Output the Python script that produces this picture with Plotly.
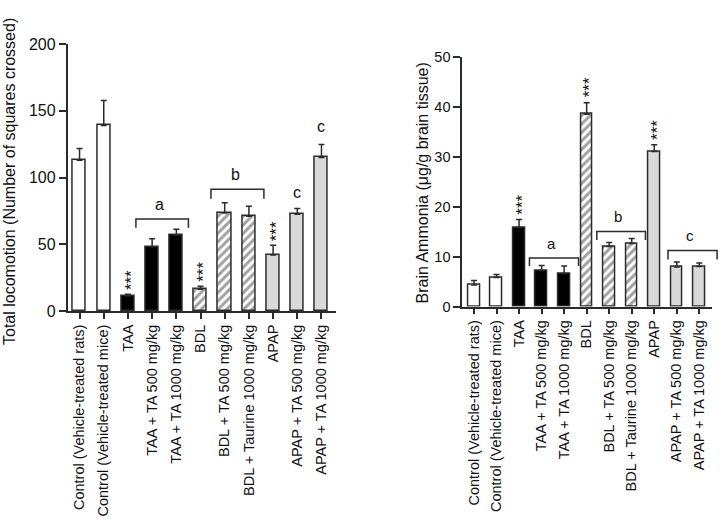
import plotly.graph_objects as go

categories = ["Control (Vehicle-treated rats)", "Control (Vehicle-treated mice)", "TAA",
              "TAA + TA 500 mg/kg", "TAA + TA 1000 mg/kg", "BDL", "BDL + TA 500 mg/kg",
              "BDL + Taurine 1000 mg/kg", "APAP", "APAP + TA 500 mg/kg", "APAP + TA 1000 mg/kg"]

locomotion = [113, 139, 11.5, 48.2, 57, 16.3, 73.5, 71, 42, 72.5, 115]
locomotion_err = [8.7, 18.6, 1.1, 6.0, 4.2, 2.2, 7.5, 7.5, 7.3, 4.2, 9.7]

ammonia = [4.3, 5.8, 15.8, 7.2, 6.6, 38.5, 12.0, 12.6, 31.0, 7.9, 8.0]
ammonia_err = [0.9, 0.6, 1.6, 1.0, 1.5, 2.3, 0.8, 1.0, 1.4, 1.0, 0.7]

star_idx = [2, 5, 8]

left_ticks = [0, 50, 100, 150, 200]
right_ticks = [0, 10, 20, 30, 40, 50]

# brackets: (x0, x1, ytop, ybottom, label, label_x, label_y)
left_brackets = [(2.33, 4.5, 69, 62.4, "a", 3.3, 72),
                 (5.43, 7.62, 91.2, 84, "b", 6.43, 94.5)]
left_letters = [("c", 9.0, 81), ("c", 10.0, 130)]
right_brackets = [(2.46, 4.64, 9.7, 8.1, "a", 3.42, 10.6),
                  (5.45, 7.61, 15.0, 13.3, "b", 6.37, 15.9),
                  (8.61, 10.79, 11.2, 9.4, "c", 9.6, 12.1)]

W, H = 720, 522
FONT = "Liberation Sans, Arial, sans-serif"
DARK = "#2b2b2b"

fills = ["white", "white", "black", "black", "black", "white", "white", "white",
         "#d9d9d9", "#d9d9d9", "#d9d9d9"]
shapes_p = ["", "", "", "", "", "/", "/", "/", "", "", ""]

def px_x(p):
    return p / W

def px_y(p):
    return 1 - p / H

L_XR = [-0.49, 10.6]
L_YR = [0, 200]
R_XR = [-0.52, 10.55]
R_YR = [0, 50]

fig = go.Figure()

def bar_trace(vals, errs, xa, ya, width):
    return go.Bar(
        x=list(range(len(categories))), y=vals, xaxis=xa, yaxis=ya, width=width,
        marker=dict(color=fills, line=dict(color=DARK, width=1.5),
                    pattern=dict(shape=shapes_p, fgcolor="#000000", bgcolor="white",
                                 size=6, solidity=0.5)),
        error_y=dict(type="data", symmetric=False, array=errs,
                     arrayminus=[0] * len(errs), color=DARK, thickness=1.5, width=3),
        showlegend=False, hoverinfo="skip")

fig.add_trace(bar_trace(locomotion, locomotion_err, "x", "y", 0.54))
fig.add_trace(bar_trace(ammonia, ammonia_err, "x2", "y2", 0.52))

axis_common = dict(showline=True, linecolor=DARK, linewidth=1.8, ticks="outside",
                   tickcolor=DARK, tickwidth=1.5, showgrid=False, zeroline=False,
                   automargin=False)

fig.update_layout(
    width=W, height=H, margin=dict(l=0, r=0, t=0, b=0, autoexpand=False),
    paper_bgcolor="white", plot_bgcolor="white", bargap=0,
    xaxis=dict(axis_common, domain=[px_x(67.7), px_x(336)], range=L_XR, anchor="y",
               tickmode="array", tickvals=list(range(len(categories))), ticktext=categories,
               tickangle=-90, ticklen=6, tickfont=dict(family=FONT, size=14.5, color="#111111")),
    yaxis=dict(axis_common, domain=[px_y(311), px_y(44)], range=L_YR, anchor="x",
               tickmode="array", tickvals=left_ticks, ticklen=7,
               tickfont=dict(family=FONT, size=16, color="#111111")),
    xaxis2=dict(axis_common, domain=[px_x(462.3), px_x(711.7)], range=R_XR, anchor="y2",
                tickmode="array", tickvals=list(range(len(categories))), ticktext=categories,
                tickangle=-90, ticklen=6, tickfont=dict(family=FONT, size=14.5, color="#111111")),
    yaxis2=dict(axis_common, domain=[px_y(306.5), px_y(56.7)], range=R_YR, anchor="x2",
                tickmode="array", tickvals=right_ticks, ticklen=7,
                tickfont=dict(family=FONT, size=14.5, color="#111111")),
)

ann = []
ann.append(dict(text="Total locomotion (Number of squares crossed)", xref="paper", yref="paper",
                x=px_x(9), y=px_y(182), textangle=-90, showarrow=False,
                xanchor="center", yanchor="middle", font=dict(family=FONT, size=16, color="#111111")))
ann.append(dict(text="Brain Ammonia (\u03bcg/g brain tissue)", xref="paper", yref="paper",
                x=px_x(421.5), y=px_y(183), textangle=-90, showarrow=False,
                xanchor="center", yanchor="middle", font=dict(family=FONT, size=16, color="#111111")))

for i in star_idx:
    ann.append(dict(text="***", x=i, y=locomotion[i] + locomotion_err[i], xref="x", yref="y",
                    textangle=-90, showarrow=False, xanchor="center", yanchor="bottom",
                    yshift=2, xshift=3, font=dict(family=FONT, size=17, color="#111111")))
    ann.append(dict(text="***", x=i, y=ammonia[i] + ammonia_err[i], xref="x2", yref="y2",
                    textangle=-90, showarrow=False, xanchor="center", yanchor="bottom",
                    yshift=3, xshift=3, font=dict(family=FONT, size=17, color="#111111")))

shapes = []

def add_brackets(brs, xr, yr, xa, ya, fsize):
    for (x0, x1, yt, yb, lab, lx, ly) in brs:
        fx = lambda c: (c - xr[0]) / (xr[1] - xr[0])
        fy = lambda v: (v - yr[0]) / (yr[1] - yr[0])
        shapes.append(dict(type="path", xref=xa + " domain", yref=ya + " domain",
                           path=f"M {fx(x0)},{fy(yb)} L {fx(x0)},{fy(yt)} L {fx(x1)},{fy(yt)} L {fx(x1)},{fy(yb)}",
                           line=dict(color=DARK, width=1.5)))
        ann.append(dict(text=lab, x=lx, y=ly, xref=xa, yref=ya, showarrow=False,
                        xanchor="center", yanchor="bottom",
                        font=dict(family=FONT, size=fsize, color="#111111")))

add_brackets(left_brackets, L_XR, L_YR, "x", "y", 16)
add_brackets(right_brackets, R_XR, R_YR, "x2", "y2", 15)

for (lab, lx, ly) in left_letters:
    ann.append(dict(text=lab, x=lx, y=ly, xref="x", yref="y", showarrow=False,
                    xanchor="center", yanchor="bottom",
                    font=dict(family=FONT, size=16, color="#111111")))

fig.update_layout(annotations=ann, shapes=shapes)
fig.write_html("out.html", config={"displayModeBar": False},
               post_script="document.body.style.margin='0';document.body.style.overflow='hidden';")
